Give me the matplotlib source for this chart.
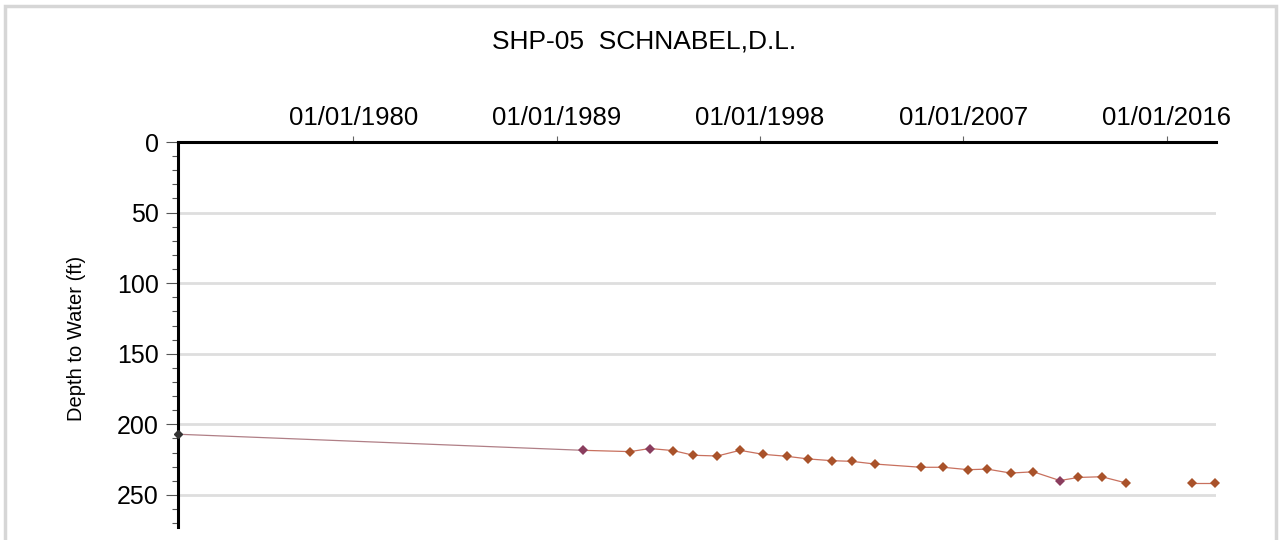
import datetime as dt

import matplotlib
matplotlib.use("Agg")
import matplotlib.pyplot as plt
import matplotlib.dates as mdates
from matplotlib.patches import Rectangle
from matplotlib.ticker import MultipleLocator

plt.rcParams["font.family"] = ["Liberation Sans", "DejaVu Sans"]

# Data (depth to water, ft)
TITLE = "SHP-05  SCHNABEL,D.L."
Y_LABEL = "Depth to Water (ft)"

first_date = [dt.date(1972, 4, 1)]
first_depth = [207.0]

dates_a = [
    dt.date(1990, 3, 7), dt.date(1992, 4, 1), dt.date(1993, 2, 15), dt.date(1994, 3, 1),
    dt.date(1995, 1, 20), dt.date(1996, 2, 10), dt.date(1997, 2, 10), dt.date(1998, 2, 15),
    dt.date(1999, 3, 5), dt.date(2000, 2, 20), dt.date(2001, 3, 1), dt.date(2002, 1, 25),
    dt.date(2003, 2, 1), dt.date(2005, 2, 15), dt.date(2006, 2, 10), dt.date(2007, 3, 20),
    dt.date(2008, 1, 20), dt.date(2009, 2, 5), dt.date(2010, 2, 5), dt.date(2011, 4, 10),
    dt.date(2012, 2, 1), dt.date(2013, 2, 15), dt.date(2014, 3, 15),
]
depth_a = [
    218.4, 219.3, 217.1, 218.6, 221.9, 222.4, 218.4, 221.2, 222.6, 224.5, 225.7, 226.2,
    228.1, 230.4, 230.4, 232.1, 231.7, 234.5, 233.6, 239.8, 237.6, 237.1, 241.5,
]

dates_b = [dt.date(2017, 2, 15), dt.date(2018, 2, 15)]
depth_b = [241.2, 241.2]

x_ticks = [dt.date(1980, 1, 1), dt.date(1989, 1, 1), dt.date(1998, 1, 1),
           dt.date(2007, 1, 1), dt.date(2016, 1, 1)]
y_ticks = [0, 50, 100, 150, 200, 250]

# styles
LINE_COLOR = "#c8705e"
MARK_COLOR = "#a9522a"
PURPLE = "#8a3d5e"
GRID_COLOR = "#dedede"

fig = plt.figure(figsize=(12.81, 5.40), dpi=100)
fig.patch.set_facecolor("white")

# light gray frame around the figure (open at bottom)
fig.patches.append(Rectangle((4.5 / 1281, -0.05), 1271 / 1281, 1.05 - 6 / 540,
                             transform=fig.transFigure, fill=False,
                             edgecolor="#d6d6d6", linewidth=2.5, zorder=0))

ax = fig.add_axes([178 / 1281, 13 / 540, 1038 / 1281, 385 / 540])

ax.set_xlim(dt.date(1972, 3, 28), dt.date(2018, 3, 8))
ax.set_ylim(272.7, 0)

# gridlines
for v in y_ticks[1:]:
    ax.axhline(v, color=GRID_COLOR, linewidth=2.0, zorder=1)

# connecting line from first reading to 1990
ax.plot(first_date + dates_a[:1], first_depth + depth_a[:1], color="#b07f86",
        linewidth=0.9, zorder=2)
ax.plot(dates_a, depth_a, color=LINE_COLOR, linewidth=0.9, zorder=2)
ax.plot(dates_b, depth_b, color=LINE_COLOR, linewidth=0.9, zorder=2)

ax.plot(first_date, first_depth, linestyle="none", marker="D", markersize=4,
        color="#333333", zorder=4, clip_on=False)
colors_a = [PURPLE, MARK_COLOR, PURPLE] + [MARK_COLOR] * 16 + [PURPLE] + [MARK_COLOR] * 3
for d, v, c in zip(dates_a, depth_a, colors_a):
    ax.plot([d], [v], linestyle="none", marker="D", markersize=5.6, color=c,
            markeredgewidth=0, zorder=3)
ax.plot(dates_b, depth_b, linestyle="none", marker="D", markersize=5.6,
        color=MARK_COLOR, markeredgewidth=0, zorder=3, clip_on=False)

# axes styling
for side in ("right", "bottom"):
    ax.spines[side].set_visible(False)
ax.spines["top"].set_linewidth(2.2)
ax.spines["left"].set_linewidth(2.2)

ax.xaxis.tick_top()
ax.set_xticks(x_ticks)
ax.xaxis.set_major_formatter(mdates.DateFormatter("%m/%d/%Y"))
ax.tick_params(axis="x", which="major", direction="out", length=4, width=0.8,
               color="#666666", labelsize=18.5, pad=5)

ax.set_yticks(y_ticks)
ax.yaxis.set_minor_locator(MultipleLocator(10))
ax.tick_params(axis="y", which="major", direction="out", length=9, width=0.8,
               color="#555555", labelsize=18, pad=5)
ax.tick_params(axis="y", which="minor", direction="out", length=4.5, width=0.8,
               color="#555555")

fig.text(76 / 1281, 1 - 338 / 540, Y_LABEL, rotation=90, ha="center", va="center",
         fontsize=14.5)
fig.text(644 / 1281, 1 - 42 / 540, TITLE, ha="center", va="center", fontsize=19)

fig.savefig("out.png", dpi=100)
